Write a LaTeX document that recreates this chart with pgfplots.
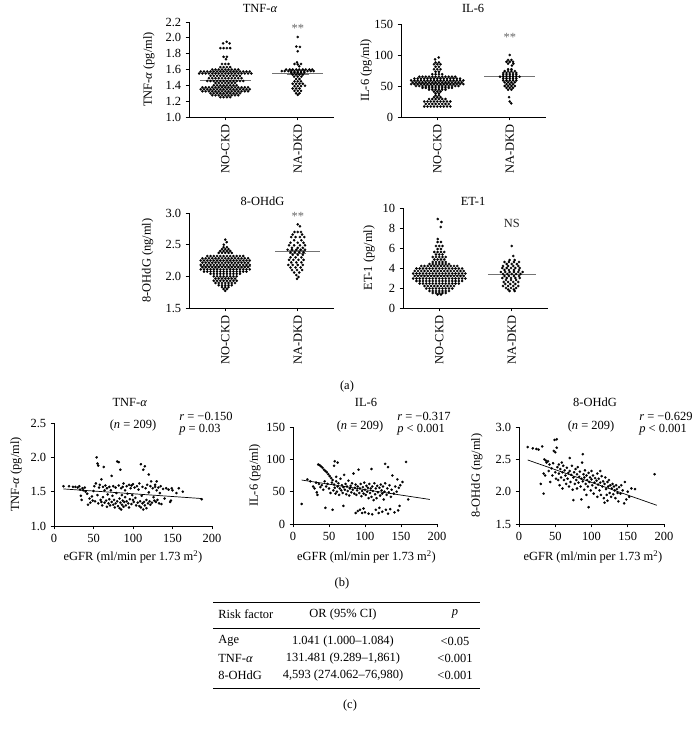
\documentclass[border=0pt]{standalone}
\usepackage{pgfplots}
\pgfplotsset{compat=1.18}
\usepackage{fontspec}
\setmainfont{Liberation Serif}
\newcommand\fsz{\fontsize{12.5}{14}\selectfont}
\makeatletter
\renewcommand\normalsize{\@setfontsize\normalsize{12.5}{14}}
\makeatother
\pgfplotsset{
  base/.style={scale only axis, axis x line=bottom, axis y line=left, font=\fsz,
    axis line style={-, black, line width=0.7pt},
    every tick/.style={black, line width=0.7pt},
    tick align=outside, major tick length=3.5pt,
    every tick label/.append style={font=\fsz}, every axis label/.append style={font=\fsz},
    every axis title/.append style={font=\fsz},
    /pgf/number format/assume math mode=true, clip=false},
  swarm/.style={base, width=145bp, xmin=-0.5, xmax=1.5, xtick={0,1},
    xticklabels={NO-CKD,NA-DKD}, xticklabel style={rotate=90, anchor=east, font=\fsz}},
  scat/.style={base, xmin=0, xmax=200, xtick={0,50,100,150,200},
    xlabel={eGFR (ml/min per 1.73 m\textsuperscript{2})}},
  dec1/.style={yticklabel style={/pgf/number format/.cd, fixed, fixed zerofill, precision=1}},
  dots/.style={only marks, mark=*, mark size=1.2pt, black, mark options={solid, line width=0.2pt}},
  meanl/.style={no marks, black!55, line width=0.8pt},
}
\begin{document}
\normalsize
\begin{tikzpicture}[x=1bp,y=1bp, every node/.style={font=\fsz}]
\path[use as bounding box] (0,0) rectangle (695,-731);

% ---------- (a) TNF-alpha ----------
\begin{axis}[swarm, dec1, at={(189bp,-117bp)}, anchor=south west, height=95bp,
  ymin=1, ymax=2.2, ytick={1,1.2,1.4,1.6,1.8,2,2.2},
  ylabel={TNF-\textit{α} (pg/ml)}, ylabel style={at={(axis description cs:-0.276,0.5)}, anchor=center, font=\fsz},
  title={TNF-\textit{α}}, title style={at={(axis description cs:0.49,1.084)}, anchor=center}]
\addplot[dots] coordinates {
(.02,1.95) (-.03,1.93) (.06,1.93)
(-.068,1.87) (-.023,1.87) (.023,1.87) (.068,1.87)
(-.023,1.76) (.023,1.76) (.01,1.73)
(-.045,1.67) (0,1.67) (.045,1.67)
(-.068,1.63) (-.023,1.63) (.023,1.63) (.068,1.63)
(-.18,1.6) (-.135,1.6) (-.09,1.6) (-.045,1.6) (0,1.6) (.045,1.6) (.09,1.6) (.135,1.6) (.18,1.6)
(-.338,1.575) (-.293,1.575) (-.248,1.575) (-.203,1.575) (-.158,1.575) (-.113,1.575) (-.068,1.575) (-.023,1.575) (.023,1.575) (.068,1.575) (.113,1.575) (.158,1.575) (.203,1.575) (.248,1.575) (.293,1.575) (.338,1.575)
(-.36,1.55) (-.315,1.55) (-.27,1.55) (-.225,1.55) (-.18,1.55) (-.135,1.55) (-.09,1.55) (-.045,1.55) (0,1.55) (.045,1.55) (.09,1.55) (.135,1.55) (.18,1.55) (.225,1.55) (.27,1.55) (.315,1.55) (.36,1.55)
(-.203,1.52) (-.158,1.52) (-.113,1.52) (-.068,1.52) (-.023,1.52) (.023,1.52) (.068,1.52) (.113,1.52) (.158,1.52) (.203,1.52)
(-.225,1.49) (-.18,1.49) (-.135,1.49) (-.09,1.49) (-.045,1.49) (0,1.49) (.045,1.49) (.09,1.49) (.135,1.49) (.18,1.49) (.225,1.49)
(-.248,1.455) (-.203,1.455) (-.158,1.455) (-.113,1.455) (-.068,1.455) (-.023,1.455) (.023,1.455) (.068,1.455) (.113,1.455) (.158,1.455) (.203,1.455) (.248,1.455)
(-.135,1.43) (-.09,1.43) (-.045,1.43) (0,1.43) (.045,1.43) (.09,1.43) (.135,1.43)
(-.158,1.40) (-.113,1.40) (-.068,1.40) (-.023,1.40) (.023,1.40) (.068,1.40) (.113,1.40) (.158,1.40)
(-.315,1.375) (-.27,1.375) (-.225,1.375) (-.18,1.375) (-.135,1.375) (-.09,1.375) (-.045,1.375) (0,1.375) (.045,1.375) (.09,1.375) (.135,1.375) (.18,1.375) (.225,1.375) (.27,1.375) (.315,1.375)
(-.338,1.35) (-.293,1.35) (-.248,1.35) (-.203,1.35) (-.158,1.35) (-.113,1.35) (-.068,1.35) (-.023,1.35) (.023,1.35) (.068,1.35) (.113,1.35) (.158,1.35) (.203,1.35) (.248,1.35) (.293,1.35) (.338,1.35)
(-.315,1.325) (-.27,1.325) (-.225,1.325) (-.18,1.325) (-.135,1.325) (-.09,1.325) (-.045,1.325) (0,1.325) (.045,1.325) (.09,1.325) (.135,1.325) (.18,1.325) (.225,1.325) (.27,1.325) (.315,1.325)
(-.203,1.30) (-.158,1.30) (-.113,1.30) (-.068,1.30) (-.023,1.30) (.023,1.30) (.068,1.30) (.113,1.30) (.158,1.30) (.203,1.30)
(-.18,1.275) (-.135,1.275) (-.09,1.275) (-.045,1.275) (0,1.275) (.045,1.275) (.09,1.275) (.135,1.275) (.18,1.275)
(-.068,1.25) (-.023,1.25) (.023,1.25) (.068,1.25)
};
\addplot[meanl] coordinates {(-0.35,1.468) (0.35,1.468)};
\addplot[dots] coordinates {
(1,2.01) (0.98,1.89) (1.03,1.885) (1.0,1.83) (0.99,1.69)
(0.955,1.67) (1.0,1.665) (1.045,1.67) (1.02,1.64)
(0.84,1.60) (0.89,1.60) (0.93,1.60) (0.98,1.60) (1.02,1.60) (1.07,1.60) (1.11,1.60) (1.16,1.60) (1.2,1.6)
(0.78,1.58) (0.82,1.58) (0.87,1.58) (0.91,1.58) (0.955,1.58) (1,1.58) (1.045,1.58) (1.09,1.58) (1.135,1.58) (1.18,1.58) (1.22,1.58)
(0.91,1.56) (0.955,1.56) (1,1.56) (1.045,1.56) (1.09,1.56)
(0.93,1.535) (0.977,1.535) (1.023,1.535) (1.07,1.535)
(0.95,1.51) (1.0,1.51) (1.05,1.51)
(0.977,1.48) (1.023,1.48)
(0.955,1.45) (1,1.45) (1.045,1.45)
(0.93,1.42) (0.977,1.42) (1.023,1.42) (1.07,1.42)
(0.955,1.39) (1.0,1.39) (1.045,1.39) (1.1,1.395)
(0.93,1.36) (0.977,1.36) (1.023,1.36)
(0.955,1.33) (1,1.33) (1.045,1.33)
(0.977,1.30) (1.023,1.30) (1,1.28)
};
\addplot[meanl] coordinates {(0.65,1.55) (1.35,1.55)};
\addplot[meanl, line width=0.6pt] coordinates {(0.85,1.535) (1.15,1.535)};
\node[black!60] at (axis cs:1,2.115) {**};
\end{axis}

% ---------- (a) IL-6 ----------
\begin{axis}[swarm, at={(401bp,-117bp)}, anchor=south west, height=93bp,
  ymin=0, ymax=150, ytick={0,50,100,150},
  ylabel={IL-6 (pg/ml)}, ylabel style={at={(axis description cs:-0.24,0.5)}, anchor=center, font=\fsz},
  title={IL-6}, title style={at={(axis description cs:0.497,1.107)}, anchor=center}]
\addplot[meanl] coordinates {(-0.35,54) (0.35,54)};
\addplot[dots] coordinates {
(.02,96) (-.03,93) (-.023,88) (.023,88) (-.045,85) (0,85) (.045,85) (-.023,81) (.023,81)
(-.045,77) (0,77) (.045,77) (-.023,73) (.023,73) (-.068,69) (-.023,69) (.023,69) (.068,69)
(-.248,65) (-.203,65) (-.158,65) (-.113,65) (-.068,65) (-.023,65) (.023,65) (.068,65) (.113,65) (.158,65) (.203,65) (.248,65)
(-.315,62) (-.27,62) (-.225,62) (-.18,62) (-.135,62) (-.09,62) (-.045,62) (0,62) (.045,62) (.09,62) (.135,62) (.18,62) (.225,62) (.27,62) (.315,62)
(-.36,59) (-.315,59) (-.27,59) (-.225,59) (-.18,59) (-.135,59) (-.09,59) (-.045,59) (0,59) (.045,59) (.09,59) (.135,59) (.18,59) (.225,59) (.27,59) (.315,59) (.36,59)
(-.338,56) (-.293,56) (-.248,56) (-.203,56) (-.158,56) (-.113,56) (-.068,56) (-.023,56) (.023,56) (.068,56) (.113,56) (.158,56) (.203,56) (.248,56) (.293,56) (.338,56)
(-.36,53) (-.315,53) (-.27,53) (-.225,53) (-.18,53) (-.135,53) (-.09,53) (-.045,53) (0,53) (.045,53) (.09,53) (.135,53) (.18,53) (.225,53) (.27,53) (.315,53) (.36,53)
(-.293,50) (-.248,50) (-.203,50) (-.158,50) (-.113,50) (-.068,50) (-.023,50) (.023,50) (.068,50) (.113,50) (.158,50) (.203,50) (.248,50) (.293,50)
(-.203,47) (-.158,47) (-.113,47) (-.068,47) (-.023,47) (.023,47) (.068,47) (.113,47) (.158,47) (.203,47)
(-.113,44) (-.068,44) (-.023,44) (.023,44) (.068,44) (.113,44)
(-.045,41) (0,41) (.045,41) (-.023,38) (.023,38) (-.023,35) (.023,35) (-.045,32) (0,32) (.045,32)
(-.113,29) (-.068,29) (-.023,29) (.023,29) (.068,29) (.113,29)
(-.18,25) (-.135,25) (-.09,25) (-.045,25) (0,25) (.045,25) (.09,25) (.135,25) (.18,25)
(-.158,21) (-.113,21) (-.068,21) (-.023,21) (.023,21) (.068,21) (.113,21) (.158,21)
(-.18,17) (-.135,17) (-.09,17) (-.045,17) (0,17) (.045,17) (.09,17) (.135,17) (.18,17)
};
\addplot[dots] coordinates {
(1,100) (0.977,92) (1.023,92) (0.955,89) (1,89) (1.045,89) (0.977,86) (1.05,86) (1.03,83)
(0.977,77) (1.023,77)
(0.93,74) (0.977,74) (1.023,74) (1.07,74)
(0.91,71) (0.955,71) (1,71) (1.045,71) (1.09,71)
(0.91,68) (0.955,68) (1,68) (1.045,68) (1.09,68)
(0.865,65) (0.91,65) (0.955,65) (1,65) (1.045,65) (1.09,65) (1.135,65)
(0.91,62) (0.955,62) (1,62) (1.045,62) (1.09,62)
(0.91,59) (0.955,59) (1,59) (1.045,59) (1.09,59)
(0.93,56) (0.977,56) (1.023,56) (1.07,56)
(0.955,53) (1,53) (1.045,53)
(0.93,50) (0.977,50) (1.023,50) (1.07,50)
(0.955,47) (1,47) (1.045,47) (0.977,44) (1.023,44)
(0.99,32) (1.0,25) (1.02,22)
};
\addplot[meanl] coordinates {(0.65,66) (1.35,66)};
\node[black!60] at (axis cs:1,129) {**};
\end{axis}

% ---------- (a) 8-OHdG ----------
\begin{axis}[swarm, dec1, at={(189bp,-308bp)}, anchor=south west, height=95bp,
  ymin=1.5, ymax=3, ytick={1.5,2,2.5,3},
  ylabel={8-OHdG (ng/ml)}, ylabel style={at={(axis description cs:-0.285,0.5)}, anchor=center, font=\fsz},
  title={8-OHdG}, title style={at={(axis description cs:0.507,1.063)}, anchor=center}]
\addplot[meanl] coordinates {(-0.35,2.15) (0.35,2.15)};
\addplot[dots] coordinates {
(0,2.58) (.02,2.54) (-.02,2.50) (-.023,2.46) (.023,2.46) (-.045,2.43) (0,2.43) (.045,2.43)
(-.068,2.40) (-.023,2.40) (.023,2.40) (.068,2.40)
(-.09,2.37) (-.045,2.37) (0,2.37) (.045,2.37) (.09,2.37)
(-.248,2.32) (-.203,2.32) (-.158,2.32) (-.113,2.32) (-.068,2.32) (-.023,2.32) (.023,2.32) (.068,2.32) (.113,2.32) (.158,2.32) (.203,2.32) (.248,2.32)
(-.315,2.285) (-.27,2.285) (-.225,2.285) (-.18,2.285) (-.135,2.285) (-.09,2.285) (-.045,2.285) (0,2.285) (.045,2.285) (.09,2.285) (.135,2.285) (.18,2.285) (.225,2.285) (.27,2.285) (.315,2.285)
(-.338,2.25) (-.293,2.25) (-.248,2.25) (-.203,2.25) (-.158,2.25) (-.113,2.25) (-.068,2.25) (-.023,2.25) (.023,2.25) (.068,2.25) (.113,2.25) (.158,2.25) (.203,2.25) (.248,2.25) (.293,2.25) (.338,2.25)
(-.315,2.215) (-.27,2.215) (-.225,2.215) (-.18,2.215) (-.135,2.215) (-.09,2.215) (-.045,2.215) (0,2.215) (.045,2.215) (.09,2.215) (.135,2.215) (.18,2.215) (.225,2.215) (.27,2.215) (.315,2.215)
(-.338,2.18) (-.293,2.18) (-.248,2.18) (-.203,2.18) (-.158,2.18) (-.113,2.18) (-.068,2.18) (-.023,2.18) (.023,2.18) (.068,2.18) (.113,2.18) (.158,2.18) (.203,2.18) (.248,2.18) (.293,2.18) (.338,2.18)
(-.315,2.145) (-.27,2.145) (-.225,2.145) (-.18,2.145) (-.135,2.145) (-.09,2.145) (-.045,2.145) (0,2.145) (.045,2.145) (.09,2.145) (.135,2.145) (.18,2.145) (.225,2.145) (.27,2.145) (.315,2.145)
(-.338,2.11) (-.293,2.11) (-.248,2.11) (-.203,2.11) (-.158,2.11) (-.113,2.11) (-.068,2.11) (-.023,2.11) (.023,2.11) (.068,2.11) (.113,2.11) (.158,2.11) (.203,2.11) (.248,2.11) (.293,2.11) (.338,2.11)
(-.293,2.075) (-.248,2.075) (-.203,2.075) (-.158,2.075) (-.113,2.075) (-.068,2.075) (-.023,2.075) (.023,2.075) (.068,2.075) (.113,2.075) (.158,2.075) (.203,2.075) (.248,2.075) (.293,2.075)
(-.203,2.04) (-.158,2.04) (-.113,2.04) (-.068,2.04) (-.023,2.04) (.023,2.04) (.068,2.04) (.113,2.04) (.158,2.04) (.203,2.04)
(-.158,2.00) (-.113,2.00) (-.068,2.00) (-.023,2.00) (.023,2.00) (.068,2.00) (.113,2.00) (.158,2.00)
(-.135,1.965) (-.09,1.965) (-.045,1.965) (0,1.965) (.045,1.965) (.09,1.965) (.135,1.965)
(-.158,1.93) (-.113,1.93) (-.068,1.93) (-.023,1.93) (.023,1.93) (.068,1.93) (.113,1.93) (.158,1.93)
(-.135,1.895) (-.09,1.895) (-.045,1.895) (0,1.895) (.045,1.895) (.09,1.895) (.135,1.895)
(-.09,1.86) (-.045,1.86) (0,1.86) (.045,1.86) (.09,1.86)
(-.045,1.83) (0,1.83) (.045,1.83) (-.023,1.80) (.023,1.80) (0,1.77)
};
\addplot[dots] coordinates {
(1,2.82) (1.03,2.79)
(0.955,2.70) (1,2.70) (1.045,2.70) (0.93,2.66) (1.06,2.66)
(0.91,2.62) (0.97,2.62) (1.03,2.62) (1.09,2.62) (0.95,2.57) (1.05,2.57)
(0.9,2.53) (1,2.53) (1.08,2.53) (0.88,2.49) (0.95,2.49) (1.03,2.49) (1.1,2.49)
(0.92,2.45) (1,2.45) (1.07,2.45) (0.86,2.42) (0.92,2.42) (0.98,2.42) (1.04,2.42) (1.1,2.42)
(0.9,2.38) (0.96,2.38) (1.02,2.38) (1.08,2.38) (0.93,2.34) (1,2.34) (1.07,2.34)
(0.9,2.30) (0.97,2.30) (1.05,2.30) (0.88,2.26) (0.94,2.26) (1.01,2.26) (1.08,2.26)
(0.91,2.22) (0.98,2.22) (1.05,2.22) (0.87,2.18) (0.93,2.18) (1.0,2.18) (1.07,2.18)
(0.9,2.14) (0.97,2.14) (1.04,2.14) (0.92,2.10) (0.99,2.10) (1.06,2.10)
(0.95,2.06) (1.02,2.06) (0.98,2.02) (1.01,1.99) (0.99,1.96)
};
\addplot[meanl] coordinates {(0.69,2.39) (1.31,2.39)};
\addplot[meanl, line width=0.6pt] coordinates {(0.88,2.365) (1.12,2.365)};
\addplot[meanl, line width=0.6pt] coordinates {(0.88,2.415) (1.12,2.415)};
\node[black!60] at (axis cs:1,2.94) {**};
\end{axis}

% ---------- (a) ET-1 ----------
\begin{axis}[swarm, at={(403bp,-308bp)}, anchor=south west, height=100bp,
  ymin=0, ymax=10, ytick={0,2,4,6,8,10},
  ylabel={ET-1 (pg/ml)}, ylabel style={at={(axis description cs:-0.234,0.5)}, anchor=center, font=\fsz},
  title={ET-1}, title style={at={(axis description cs:0.483,1.01)}, anchor=center}]
\addplot[meanl] coordinates {(-0.35,3.3) (0.35,3.3)};
\addplot[dots] coordinates {
(-.02,8.9) (.03,8.6) (.02,8.1) (-.02,6.9) (-.023,6.6) (.023,6.6) (-.045,6.2) (0,6.2) (.045,6.2)
(-.023,5.9) (.023,5.9) (-.068,5.6) (-.023,5.6) (.023,5.6) (.068,5.6)
(-.045,5.35) (0,5.35) (.045,5.35) (-.09,5.1) (-.045,5.1) (0,5.1) (.045,5.1) (.09,5.1)
(-.068,4.85) (-.023,4.85) (.023,4.85) (.068,4.85)
(-.09,4.6) (-.045,4.6) (0,4.6) (.045,4.6) (.09,4.6)
(-.135,4.4) (-.09,4.4) (-.045,4.4) (0,4.4) (.045,4.4) (.09,4.4) (.135,4.4)
(-.248,4.2) (-.203,4.2) (-.158,4.2) (-.113,4.2) (-.068,4.2) (-.023,4.2) (.023,4.2) (.068,4.2) (.113,4.2) (.158,4.2) (.203,4.2) (.248,4.2)
(-.315,3.95) (-.27,3.95) (-.225,3.95) (-.18,3.95) (-.135,3.95) (-.09,3.95) (-.045,3.95) (0,3.95) (.045,3.95) (.09,3.95) (.135,3.95) (.18,3.95) (.225,3.95) (.27,3.95) (.315,3.95)
(-.338,3.7) (-.293,3.7) (-.248,3.7) (-.203,3.7) (-.158,3.7) (-.113,3.7) (-.068,3.7) (-.023,3.7) (.023,3.7) (.068,3.7) (.113,3.7) (.158,3.7) (.203,3.7) (.248,3.7) (.293,3.7) (.338,3.7)
(-.36,3.45) (-.315,3.45) (-.27,3.45) (-.225,3.45) (-.18,3.45) (-.135,3.45) (-.09,3.45) (-.045,3.45) (0,3.45) (.045,3.45) (.09,3.45) (.135,3.45) (.18,3.45) (.225,3.45) (.27,3.45) (.315,3.45) (.36,3.45)
(-.338,3.2) (-.293,3.2) (-.248,3.2) (-.203,3.2) (-.158,3.2) (-.113,3.2) (-.068,3.2) (-.023,3.2) (.023,3.2) (.068,3.2) (.113,3.2) (.158,3.2) (.203,3.2) (.248,3.2) (.293,3.2) (.338,3.2)
(-.36,2.95) (-.315,2.95) (-.27,2.95) (-.225,2.95) (-.18,2.95) (-.135,2.95) (-.09,2.95) (-.045,2.95) (0,2.95) (.045,2.95) (.09,2.95) (.135,2.95) (.18,2.95) (.225,2.95) (.27,2.95) (.315,2.95) (.36,2.95)
(-.315,2.7) (-.27,2.7) (-.225,2.7) (-.18,2.7) (-.135,2.7) (-.09,2.7) (-.045,2.7) (0,2.7) (.045,2.7) (.09,2.7) (.135,2.7) (.18,2.7) (.225,2.7) (.27,2.7) (.315,2.7)
(-.27,2.45) (-.225,2.45) (-.18,2.45) (-.135,2.45) (-.09,2.45) (-.045,2.45) (0,2.45) (.045,2.45) (.09,2.45) (.135,2.45) (.18,2.45) (.225,2.45) (.27,2.45)
(-.203,2.2) (-.158,2.2) (-.113,2.2) (-.068,2.2) (-.023,2.2) (.023,2.2) (.068,2.2) (.113,2.2) (.158,2.2) (.203,2.2)
(-.18,1.95) (-.135,1.95) (-.09,1.95) (-.045,1.95) (0,1.95) (.045,1.95) (.09,1.95) (.135,1.95) (.18,1.95)
(-.135,1.7) (-.09,1.7) (-.045,1.7) (0,1.7) (.045,1.7) (.09,1.7) (.135,1.7)
(-.09,1.5) (-.045,1.5) (0,1.5) (.045,1.5) (.09,1.5) (-.023,1.35) (.023,1.35)
};
\addplot[dots] coordinates {
(1,6.2) (1.02,5.2) (0.97,4.8) (1.04,4.8)
(0.9,4.6) (0.96,4.6) (1.03,4.6) (1.1,4.6) (0.93,4.4) (1,4.4) (1.07,4.4)
(0.88,4.2) (0.95,4.2) (1.02,4.2) (1.09,4.2) (0.87,4.0) (0.93,4.0) (0.99,4.0) (1.05,4.0) (1.11,4.0)
(0.9,3.8) (0.96,3.8) (1.03,3.8) (1.1,3.8) (0.85,3.6) (0.91,3.6) (0.97,3.6) (1.03,3.6) (1.09,3.6) (1.15,3.6)
(0.88,3.4) (0.94,3.4) (1,3.4) (1.06,3.4) (1.12,3.4) (0.9,3.2) (0.96,3.2) (1.03,3.2) (1.1,3.2)
(0.87,3.0) (0.93,3.0) (0.99,3.0) (1.05,3.0) (1.11,3.0) (0.92,2.8) (0.99,2.8) (1.06,2.8)
(0.89,2.6) (0.95,2.6) (1.02,2.6) (1.09,2.6) (0.91,2.4) (0.98,2.4) (1.05,2.4)
(0.88,2.2) (0.95,2.2) (1.02,2.2) (1.09,2.2) (0.92,2.0) (0.99,2.0) (1.06,2.0)
(0.95,1.85) (1.03,1.85) (0.97,1.7) (1.04,1.7)
};
\addplot[meanl] coordinates {(0.67,3.4) (1.33,3.4)};
\node[black!85] at (axis cs:1,8.5) {NS};
\end{axis}

% ---------- (b) TNF-alpha vs eGFR ----------
\begin{axis}[scat, dec1, at={(54bp,-526bp)}, anchor=south west, width=158bp, height=103bp,
  ymin=1, ymax=2.5, ytick={1,1.5,2,2.5},
  ylabel={TNF-\textit{α} (pg/ml)}, ylabel style={at={(axis description cs:-0.24,0.5)}, anchor=center, font=\fsz},
  xlabel style={at={(axis description cs:0.5,-0.30)}, anchor=center, font=\fsz},
  title={TNF-\textit{α}}, title style={at={(axis description cs:0.48,1.146)}, anchor=center}]
\addplot[dots] coordinates {
(12,1.58) (19,1.58) (24,1.57) (27,1.57) (30,1.56) (32,1.58) (33,1.53) (34,1.44) (35,1.38) (36,1.55)
(37,1.52) (39,1.56) (40,1.50) (42,1.47) (43,1.31) (45,1.40) (46,1.34) (48,1.43) (49,1.37) (50,1.51)
(51,1.58) (52,1.36) (53,1.62) (54,2.00) (55,1.91) (55,1.45) (56,1.88) (56,1.33) (57,1.56) (58,1.60)
(59,1.38) (60,1.68) (60,1.35) (61,1.30) (62,1.57) (62,1.42) (63,1.86) (64,1.34) (64,1.52) (65,1.59)
(66,1.37) (67,1.28) (67,1.55) (68,1.46) (69,1.33) (70,1.57) (70,1.39) (71,1.30) (72,1.52) (73,1.73)
(73,1.35) (74,1.44) (75,1.58) (75,1.31) (76,1.38) (77,1.27) (78,1.56) (78,1.33) (79,1.48) (80,1.94)
(80,1.36) (81,1.29) (82,1.93) (82,1.59) (83,1.40) (83,1.26) (84,1.82) (84,1.34) (85,1.55) (85,1.24)
(86,1.45) (86,1.31) (87,1.57) (87,1.37) (88,1.62) (88,1.28) (89,1.35) (90,1.52) (90,1.42) (91,1.30)
(92,1.58) (92,1.36) (93,1.47) (94,1.33) (95,1.60) (95,1.27) (96,1.39) (97,1.55) (98,1.32) (98,1.59)
(99,1.45) (100,1.38) (100,1.61) (101,1.35) (102,1.56) (103,1.41) (104,1.30) (105,1.58) (106,1.34) (107,1.53)
(108,1.62) (108,1.29) (109,1.36) (110,1.90) (110,1.27) (111,1.44) (112,1.33) (112,1.57) (113,1.82) (113,1.24)
(114,1.35) (115,1.87) (115,1.30) (116,1.55) (117,1.38) (117,1.26) (118,1.60) (119,1.33) (120,1.75) (120,1.49)
(121,1.36) (122,1.58) (122,1.31) (123,1.65) (124,1.34) (125,1.55) (126,1.42) (127,1.37) (128,1.60) (128,1.57)
(129,1.35) (130,1.65) (130,1.52) (131,1.38) (132,1.56) (133,1.33) (134,1.48) (135,1.58) (136,1.32) (138,1.54)
(140,1.40) (142,1.55) (145,1.53) (147,1.35) (148,1.37) (149,1.55) (150,1.52) (155,1.48) (158,1.55) (163,1.50)
(187,1.39)
};
\addplot[no marks, black, line width=0.7pt] coordinates {(12,1.54) (187,1.40)};
\end{axis}

% ---------- (b) IL-6 vs eGFR ----------
\begin{axis}[scat, at={(293bp,-524bp)}, anchor=south west, width=144bp, height=97bp,
  ymin=0, ymax=150, ytick={0,50,100,150},
  ylabel={IL-6 (pg/ml)}, ylabel style={at={(axis description cs:-0.264,0.5)}, anchor=center, font=\fsz},
  xlabel style={at={(axis description cs:0.51,-0.34)}, anchor=center, font=\fsz},
  title={IL-6}, title style={at={(axis description cs:0.507,1.196)}, anchor=center}]
\addplot[dots] coordinates {
(12,31) (20,69) (24,66) (28,58) (30,55) (32,64) (33,49) (34,45) (35,92) (36,62)
(37,91) (38,57) (39,89) (40,60) (41,87) (42,53) (43,84) (44,66) (45,25) (45,82)
(46,58) (47,80) (48,62) (49,77) (50,55) (51,74) (52,48) (53,71) (54,64) (55,22)
(55,68) (56,52) (57,90) (57,61) (58,97) (58,56) (59,47) (60,66) (60,73) (61,50)
(62,95) (62,58) (63,63) (64,45) (65,55) (66,70) (67,52) (68,60) (69,48) (70,28)
(70,57) (71,76) (72,53) (73,62) (74,46) (75,58) (76,51) (77,67) (78,44) (79,55)
(80,59) (81,49) (82,63) (83,53) (84,78) (85,47) (86,56) (87,17) (87,61) (88,45)
(89,52) (90,20) (90,58) (91,84) (92,48) (93,22) (93,55) (94,62) (95,43) (96,17)
(96,51) (97,57) (98,24) (98,47) (99,64) (100,53) (100,18) (101,45) (102,59) (103,50)
(104,56) (105,16) (105,40) (106,62) (107,48) (108,55) (109,85) (109,42) (110,15) (110,58)
(111,51) (112,37) (113,63) (114,46) (115,22) (115,55) (116,40) (117,59) (118,49) (119,17)
(120,56) (120,25) (121,44) (122,61) (123,52) (124,19) (124,47) (125,58) (126,38) (127,50)
(128,93) (128,63) (129,22) (130,45) (131,55) (132,88) (132,16) (133,49) (134,60) (135,23)
(136,42) (137,53) (138,75) (140,47) (141,18) (142,58) (144,50) (145,69) (146,21) (147,56)
(148,28) (149,60) (152,65) (157,96) (160,38)
};
\addplot[no marks, black, line width=0.7pt] coordinates {(12,68) (190,38)};
\end{axis}

% ---------- (b) 8-OHdG vs eGFR ----------
\begin{axis}[scat, dec1, at={(519bp,-524bp)}, anchor=south west, width=145bp, height=97bp,
  ymin=1.5, ymax=3, ytick={1.5,2,2.5,3},
  ylabel={8-OHdG (ng/ml)}, ylabel style={at={(axis description cs:-0.29,0.5)}, anchor=center, font=\fsz},
  xlabel style={at={(axis description cs:0.51,-0.34)}, anchor=center, font=\fsz},
  title={8-OHdG}, title style={at={(axis description cs:0.524,1.196)}, anchor=center}]
\addplot[dots] coordinates {
(12,2.69) (19,2.67) (24,2.66) (27,2.65) (30,2.12) (32,2.70) (34,1.97) (34,2.28) (35,2.50) (36,2.25)
(37,2.48) (38,2.45) (40,2.47) (41,2.32) (42,2.42) (43,2.15) (45,2.36) (46,2.25) (47,2.44) (48,2.63)
(49,2.80) (50,2.61) (50,2.30) (51,2.20) (52,2.81) (52,2.68) (53,2.38) (54,2.18) (55,2.42) (55,2.28)
(56,2.10) (57,2.35) (58,2.22) (59,2.45) (60,2.30) (60,2.05) (61,2.40) (62,2.18) (63,2.33) (64,2.25)
(65,2.12) (66,2.37) (67,2.20) (68,2.29) (69,2.08) (70,2.52) (70,2.32) (71,2.15) (72,2.26) (73,2.40)
(74,2.03) (75,1.87) (75,2.22) (76,2.30) (77,2.12) (78,2.35) (79,2.18) (80,2.05) (80,2.27) (81,2.38)
(82,2.14) (83,2.23) (84,2.31) (85,2.08) (86,1.88) (86,2.20) (87,2.45) (88,2.58) (88,2.16) (89,2.27)
(90,2.03) (90,2.22) (91,2.33) (92,2.12) (93,1.95) (93,2.25) (94,2.18) (95,2.08) (96,1.76) (96,2.29)
(97,2.15) (98,2.22) (99,2.02) (100,2.19) (100,2.32) (101,2.10) (102,2.25) (103,1.97) (104,2.14) (105,2.21)
(106,2.06) (107,2.17) (108,1.92) (108,2.28) (109,2.11) (110,2.20) (111,2.02) (112,2.32) (112,2.14) (113,1.95)
(114,2.24) (115,2.08) (116,2.16) (117,1.90) (118,1.83) (118,2.12) (119,2.22) (120,2.04) (121,1.95) (122,2.15)
(122,1.86) (123,2.08) (124,2.18) (125,1.98) (126,2.10) (127,1.92) (128,2.05) (129,2.12) (130,1.96) (131,2.08)
(132,2.02) (133,1.90) (134,2.10) (135,2.04) (136,1.98) (137,1.85) (138,2.07) (140,1.97) (141,2.10) (143,2.02)
(145,1.82) (146,2.15) (148,1.88) (150,2.00) (152,1.92) (155,2.05) (160,2.04) (187,2.27)
};
\addplot[no marks, black, line width=0.7pt] coordinates {(12,2.49) (190,1.79)};
\end{axis}

% ---------- annotations ----------
\node at (133,-426) {(\textit{n} = 209)};
\node[anchor=west] at (175,-416) {\textit{r} = −0.150};
\node[anchor=west] at (175,-430) {\textit{p} = 0.03};
\node at (360,-427) {(\textit{n} = 209)};
\node[anchor=west] at (393,-416) {\textit{r} = −0.317};
\node[anchor=west] at (393,-430) {\textit{p} < 0.001};
\node at (591,-427) {(\textit{n} = 209)};
\node[anchor=west] at (635,-416) {\textit{r} = −0.629};
\node[anchor=west] at (635,-430) {\textit{p} < 0.001};
\node at (347,-387) {(a)};
\node at (342,-583) {(b)};
\node at (350,-705) {(c)};

% ---------- (c) table ----------
\draw[line width=0.7pt] (213,-602) -- (480,-602);
\draw[line width=0.5pt] (213,-628) -- (480,-628);
\draw[line width=0.7pt] (213,-688) -- (480,-688);
\node[anchor=west] at (214,-614) {Risk factor};
\node at (343,-614) {OR (95\% CI)};
\node at (455,-614) {\textit{p}};
\node[anchor=west] at (214,-641) {Age};
\node at (343,-641) {1.041 (1.000–1.084)};
\node at (455,-641) {<0.05};
\node[anchor=west] at (214,-658) {TNF-\textit{α}};
\node at (343,-658) {131.481 (9.289–1,861)};
\node at (455,-658) {<0.001};
\node[anchor=west] at (214,-675) {8-OHdG};
\node at (343,-675) {4,593 (274.062–76,980)};
\node at (455,-675) {<0.001};
\end{tikzpicture}
\end{document}
